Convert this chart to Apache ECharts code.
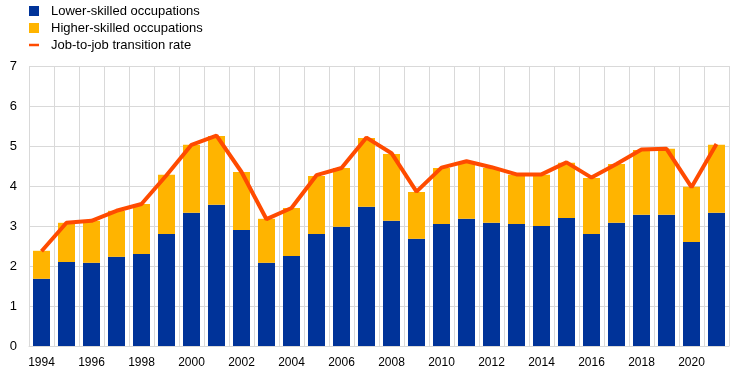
<!DOCTYPE html>
<html>
<head>
<meta charset="utf-8">
<script src="https://cdn.jsdelivr.net/npm/echarts@6/dist/echarts.min.js"></script>
<style>html,body{margin:0;padding:0;background:#fff;}#c{width:744px;height:374px;}</style>
</head>
<body>
<div id="c"></div>
<script>
var years = ['1994','1995','1996','1997','1998','1999','2000','2001','2002','2003','2004','2005','2006','2007','2008','2009','2010','2011','2012','2013','2014','2015','2016','2017','2018','2019','2020','2021'];
var lowerSkilled = [1.68,2.10,2.08,2.23,2.30,2.80,3.33,3.53,2.90,2.08,2.25,2.80,2.98,3.48,3.13,2.68,3.05,3.18,3.08,3.05,3.00,3.20,2.80,3.08,3.28,3.28,2.60,3.33];
var higherSkilled = [0.70,0.98,1.05,1.15,1.25,1.48,1.70,1.72,1.45,1.10,1.20,1.45,1.47,1.72,1.67,1.17,1.40,1.40,1.37,1.23,1.28,1.38,1.40,1.47,1.62,1.65,1.38,1.70];
var transitionRate = [2.37,3.08,3.13,3.38,3.55,4.27,5.03,5.26,4.35,3.17,3.45,4.27,4.45,5.21,4.82,3.86,4.46,4.62,4.47,4.29,4.29,4.59,4.21,4.55,4.91,4.93,3.97,5.05];
var yTicks = [0,1,2,3,4,5,6,7];

var chart = echarts.init(document.getElementById('c'), null, {renderer:'canvas'});
var font = 'Arial, "Liberation Sans", sans-serif';
chart.setOption({
  animation: false,
  textStyle: {fontFamily: font},
  legend: {
    orient: 'vertical', left: 29, top: 4, padding: 0,
    itemWidth: 10, itemHeight: 10, itemGap: 3,
    textStyle: {fontFamily: font, fontSize: 13, color: '#000', padding: [0,0,0,7], lineHeight: 14},
    data: [
      {name: 'Lower-skilled occupations', icon: 'rect'},
      {name: 'Higher-skilled occupations', icon: 'rect'},
      {name: 'Job-to-job transition rate', icon: 'path://M0,0H12V3H0Z', itemStyle: {color: '#ff4b00'}}
    ]
  },
  grid: {left: 29, right: 15, top: 66, bottom: 28},
  xAxis: {
    type: 'category', data: years, boundaryGap: true,
    axisLine: {show: true, lineStyle: {color: '#d9d9d9'}},
    axisTick: {show: false},
    axisLabel: {interval: 1, color: '#000', fontSize: 12, fontFamily: font, margin: 11},
    splitLine: {show: true, interval: 0, lineStyle: {color: '#d9d9d9', width: 1}}
  },
  yAxis: {
    type: 'value', min: yTicks[0], max: yTicks[yTicks.length-1], interval: 1,
    axisLine: {show: false}, axisTick: {show: false},
    axisLabel: {color: '#000', fontSize: 13, fontFamily: font, margin: 12},
    splitLine: {show: true, lineStyle: {color: '#d9d9d9', width: 1}}
  },
  series: [
    {name: 'Lower-skilled occupations', type: 'bar', stack: 's', data: lowerSkilled, barWidth: 17, itemStyle: {color: '#003399'}},
    {name: 'Higher-skilled occupations', type: 'bar', stack: 's', data: higherSkilled, barWidth: 17, itemStyle: {color: '#ffb400'}},
    {name: 'Job-to-job transition rate', type: 'line', data: transitionRate, symbol: 'none', showSymbol: false,
     lineStyle: {color: '#ff4b00', width: 4}, itemStyle: {color: '#ff4b00'}, z: 5}
  ]
});
</script>
</body>
</html>
